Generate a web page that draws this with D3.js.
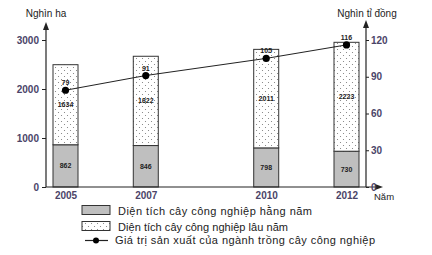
<!DOCTYPE html>
<html>
<head>
<meta charset="utf-8">
<script src="https://cdn.jsdelivr.net/npm/d3@7"></script>
<style>
  body { margin: 0; background: #fff; }
  svg { font-family: "Liberation Sans", Arial, sans-serif; }
</style>
</head>
<body>
<svg id="chart" width="432" height="255"></svg>
<script>
    var years = [2005, 2007, 2010, 2012];
    var hangNam = [862, 846, 798, 730];
    var lauNam = [1634, 1822, 2011, 2223];
    var giaTri = [79, 91, 105, 116];
    var leftTicks = [0, 1000, 2000, 3000];
    var rightTicks = [0, 30, 60, 90, 120];

    var svg = d3.select("#chart");
    var axisColor = "#222";
    var tickColor = "#4b4468";

    var x = d3.scaleLinear().domain([2005, 2012]).range([65.5, 346.5]);
    var yL = d3.scaleLinear().domain([0, 3000]).range([187, 40]);
    var yR = d3.scaleLinear().domain([0, 120]).range([187, 40]);
    var barW = 25;

    var defs = svg.append("defs");
    var pat = defs.append("pattern")
      .attr("id", "dots")
      .attr("patternUnits", "userSpaceOnUse")
      .attr("width", 6).attr("height", 6);
    pat.append("rect").attr("width", 6).attr("height", 6).attr("fill", "#fff");
    pat.append("circle").attr("cx", 1.5).attr("cy", 1.5).attr("r", 0.55).attr("fill", "#777");
    pat.append("circle").attr("cx", 4.5).attr("cy", 4.5).attr("r", 0.55).attr("fill", "#777");

    var data = years.map(function(y, i) {
      return { year: y, hang: hangNam[i], lau: lauNam[i], val: giaTri[i] };
    });

    // bars
    var bars = svg.append("g");
    bars.selectAll("rect.hang")
      .data(data).enter().append("rect")
      .attr("x", function(d) { return x(d.year) - barW / 2; })
      .attr("y", function(d) { return yL(d.hang); })
      .attr("width", barW)
      .attr("height", function(d) { return yL(0) - yL(d.hang); })
      .attr("fill", "#bfbfbf")
      .attr("stroke", "#333").attr("stroke-width", 1);
    bars.selectAll("rect.lau")
      .data(data).enter().append("rect")
      .attr("x", function(d) { return x(d.year) - barW / 2; })
      .attr("y", function(d) { return yL(d.hang + d.lau); })
      .attr("width", barW)
      .attr("height", function(d) { return yL(d.hang) - yL(d.hang + d.lau); })
      .attr("fill", "url(#dots)")
      .attr("stroke", "#333").attr("stroke-width", 1);

    bars.selectAll("text.hang")
      .data(data).enter().append("text")
      .attr("x", function(d) { return x(d.year); })
      .attr("y", function(d) { return (yL(0) + yL(d.hang)) / 2 + 2.5; })
      .attr("text-anchor", "middle")
      .attr("font-size", 7).attr("font-weight", "bold").attr("fill", "#222")
      .text(function(d) { return d.hang; });
    bars.selectAll("text.lau")
      .data(data).enter().append("text")
      .attr("x", function(d) { return x(d.year); })
      .attr("y", function(d) { return (yL(d.hang) + yL(d.hang + d.lau)) / 2 + 2.5; })
      .attr("text-anchor", "middle")
      .attr("font-size", 7).attr("font-weight", "bold").attr("fill", "#222")
      .text(function(d) { return d.lau; });

    // axes
    var axes = svg.append("g").attr("stroke", axisColor).attr("stroke-width", 1.2);
    axes.append("line").attr("x1", 46).attr("x2", 46).attr("y1", 187).attr("y2", 28);
    axes.append("line").attr("x1", 366).attr("x2", 366).attr("y1", 187).attr("y2", 26);
    axes.append("line").attr("x1", 46).attr("x2", 377).attr("y1", 187).attr("y2", 187);
    svg.append("path").attr("d", "M46,22 L43,30 L49,30 Z").attr("fill", axisColor);
    svg.append("path").attr("d", "M366,20 L363,28 L369,28 Z").attr("fill", axisColor);
    svg.append("path").attr("d", "M383,187 L375,184 L375,190 Z").attr("fill", axisColor);

    var la = svg.append("g").attr("transform", "translate(46,0)")
      .call(d3.axisLeft(yL).tickValues(leftTicks).tickFormat(d3.format("d")).tickSize(4).tickPadding(3));
    la.select(".domain").remove();
    la.selectAll(".tick line").attr("stroke", axisColor);
    la.selectAll("text").attr("font-size", 10).attr("font-weight", "bold")
      .attr("fill", tickColor).attr("font-family", "Liberation Sans, Arial, sans-serif");

    var ra = svg.append("g").attr("transform", "translate(366,0)")
      .call(d3.axisRight(yR).tickValues(rightTicks).tickSize(3).tickPadding(2));
    ra.select(".domain").remove();
    ra.selectAll(".tick line").attr("stroke", axisColor);
    ra.selectAll("text").attr("font-size", 10).attr("font-weight", "bold")
      .attr("fill", tickColor).attr("font-family", "Liberation Sans, Arial, sans-serif");

    var xa = svg.append("g").attr("transform", "translate(0,187)")
      .call(d3.axisBottom(x).tickValues(years).tickFormat(d3.format("d")).tickSize(0).tickPadding(5));
    xa.select(".domain").remove();
    xa.selectAll("text").attr("font-size", 10).attr("font-weight", "bold")
      .attr("fill", tickColor).attr("font-family", "Liberation Sans, Arial, sans-serif");

    // titles
    svg.append("text").attr("x", 46).attr("y", 17).attr("text-anchor", "middle")
      .attr("font-size", 10).attr("fill", "#222").text("Nghìn ha");
    svg.append("text").attr("x", 367).attr("y", 17).attr("text-anchor", "middle")
      .attr("font-size", 10).attr("fill", "#222").text("Nghìn tỉ đồng");
    svg.append("text").attr("x", 374).attr("y", 200)
      .attr("font-size", 9.5).attr("fill", "#222").text("Năm");

    // line
    var line = d3.line()
      .x(function(d) { return x(d.year); })
      .y(function(d) { return yR(d.val); });
    svg.append("path").datum(data)
      .attr("d", line).attr("fill", "none").attr("stroke", "#222").attr("stroke-width", 1);
    svg.selectAll("circle.pt")
      .data(data).enter().append("circle")
      .attr("cx", function(d) { return x(d.year); })
      .attr("cy", function(d) { return yR(d.val); })
      .attr("r", 3.6).attr("fill", "#000");
    svg.selectAll("text.pt")
      .data(data).enter().append("text")
      .attr("x", function(d) { return x(d.year); })
      .attr("y", function(d) { return yR(d.val) - 5; })
      .attr("text-anchor", "middle")
      .attr("font-size", 7).attr("font-weight", "bold").attr("fill", "#222")
      .text(function(d) { return d.val; });

    // legend
    var lg = svg.append("g").attr("font-size", 11).attr("fill", "#222");
    lg.append("rect").attr("x", 82).attr("y", 205.5).attr("width", 28).attr("height", 9)
      .attr("fill", "#bfbfbf").attr("stroke", "#333");
    lg.append("text").attr("x", 118).attr("y", 215).attr("textLength", 194)
      .text("Diện tích cây công nghiệp hằng năm");
    lg.append("rect").attr("x", 82).attr("y", 221.5).attr("width", 28).attr("height", 9)
      .attr("fill", "url(#dots)").attr("stroke", "#333");
    lg.append("text").attr("x", 118).attr("y", 231).attr("textLength", 170)
      .text("Diện tích cây công nghiệp lâu năm");
    lg.append("line").attr("x1", 85).attr("x2", 108).attr("y1", 240.5).attr("y2", 240.5)
      .attr("stroke", "#222").attr("stroke-width", 1.2);
    lg.append("circle").attr("cx", 96).attr("cy", 240.5).attr("r", 3).attr("fill", "#000");
    lg.append("text").attr("x", 115).attr("y", 244).attr("textLength", 260)
      .text("Giá trị sản xuất của ngành trồng cây công nghiệp");
</script>
</body>
</html>
